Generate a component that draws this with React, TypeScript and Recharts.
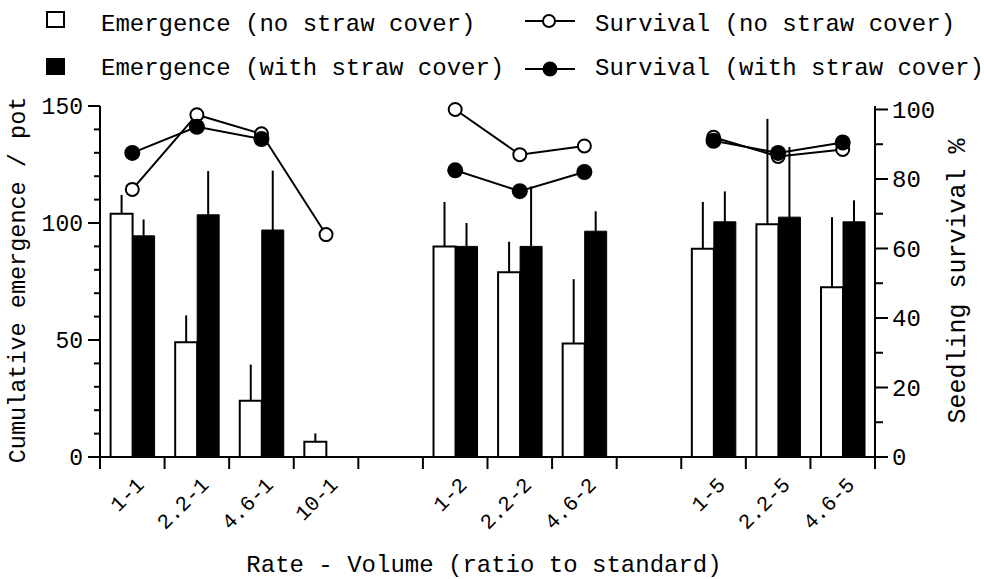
import React from 'react';
import { ComposedChart, Bar, Line, XAxis, YAxis, ErrorBar } from 'recharts';

// ---- data ----
const categories = ['1-1', '2.2-1', '4.6-1', '10-1', '', '1-2', '2.2-2', '4.6-2', '', '1-5', '2.2-5', '4.6-5'];
const emergenceNoCover = [104, 49, 24, 6.5, null, 90, 79, 48.5, null, 89, 99.5, 72.5];
const emergenceNoCoverErr = [8, 11.5, 15.5, 3.6, null, 19, 13, 27.5, null, 20, 45, 30];
const emergenceCover = [94.5, 103.5, 97, null, null, 90, 90, 96.5, null, 100.5, 102.5, 100.5];
const emergenceCoverErr = [7, 18.7, 25.4, null, null, 10, 25.6, 8.5, null, 13, 30, 9.2];
const survivalNoCover = [77, 98.5, 93, 64, null, 100, 87, 89.5, null, 92, 86.5, 88.5];
const survivalCover = [87.5, 95, 91.5, null, null, 82.5, 76.5, 82, null, 91, 87.5, 90.5];
const leftTicks = [0, 10, 20, 30, 40, 50, 60, 70, 80, 90, 100, 110, 120, 130, 140, 150];
const rightTicks = [0, 10, 20, 30, 40, 50, 60, 70, 80, 90, 100];

const data = categories.map((c, i) => ({
  idx: i,
  eNo: emergenceNoCover[i],
  eNoErr: emergenceNoCoverErr[i] == null ? null : [0, emergenceNoCoverErr[i]],
  eCov: emergenceCover[i],
  eCovErr: emergenceCoverErr[i] == null ? null : [0, emergenceCoverErr[i]],
  sNo: survivalNoCover[i],
  sCov: survivalCover[i],
}));

// ---- layout ----
const W = 984;
const H = 579;
const LEFT_W = 100;
const RIGHT_W = 109;
const TOP = 106;
const XAXIS_H = 122;
const PLOT_W = W - LEFT_W - RIGHT_W;
const BAND = PLOT_W / categories.length;
const FONT = '"Liberation Mono", "DejaVu Sans Mono", monospace';

const XTick = (props: any) => {
  const { x, y, payload, index } = props;
  const half = BAND / 2;
  const label = categories[Number(payload.value)];
  const lx = x + 13;
  const ly = y + 29;
  return (
    <g>
      <line x1={x - half} x2={x - half} y1={y} y2={y + 12} stroke="#000" strokeWidth={2} />
      {index === categories.length - 1 && (
        <line x1={x + half} x2={x + half} y1={y} y2={y + 12} stroke="#000" strokeWidth={2} />
      )}
      {label ? (
        <text
          x={lx}
          y={ly}
          transform={`rotate(-45 ${lx} ${ly})`}
          textAnchor="end"
          fontSize={21}
          fontFamily={FONT}
          fill="#000"
        >
          {label}
        </text>
      ) : null}
    </g>
  );
};

const LeftTick = (props: any) => {
  const { x, y, payload } = props;
  const v = payload.value;
  const major = v % 50 === 0;
  return (
    <g>
      <line x1={x - (major ? 12 : 6)} x2={x} y1={y} y2={y} stroke="#000" strokeWidth={2} />
      {major && (
        <text x={x - 17} y={y} dy="0.35em" textAnchor="end" fontSize={23} fontFamily={FONT} fill="#000">
          {v}
        </text>
      )}
    </g>
  );
};

const RightTick = (props: any) => {
  const { x, y, payload } = props;
  const v = payload.value;
  const major = v % 20 === 0;
  return (
    <g>
      <line x1={x} x2={x + (major ? 13 : 8)} y1={y} y2={y} stroke="#000" strokeWidth={2} />
      {major && (
        <text x={x + 17} y={y} dy="0.35em" textAnchor="start" fontSize={24} fontFamily={FONT} fill="#000">
          {v}
        </text>
      )}
    </g>
  );
};

const Overlay = () => (
  <svg width={W} height={H} style={{ position: 'absolute', left: 0, top: 0, pointerEvents: 'none' }}>
    <g fontFamily={FONT} fontSize={24} fill="#000">
      {/* legend */}
      <rect x={47} y={12} width={17} height={15} fill="#fff" stroke="#000" strokeWidth={2} />
      <text x={101} y={31}>Emergence (no straw cover)</text>
      <rect x={46} y={58} width={19} height={17} fill="#000" />
      <text x={101} y={75}>Emergence (with straw cover)</text>
      <line x1={525} x2={575} y1={21} y2={21} stroke="#000" strokeWidth={2} />
      <circle cx={549} cy={21} r={6} fill="#fff" stroke="#000" strokeWidth={2} />
      <text x={595} y={31}>Survival (no straw cover)</text>
      <line x1={525} x2={575} y1={69} y2={69} stroke="#000" strokeWidth={2} />
      <circle cx={550} cy={69} r={7.5} fill="#000" />
      <text x={595} y={75}>Survival (with straw cover)</text>
      {/* axis titles */}
      <text x={484} y={572} textAnchor="middle">Rate - Volume (ratio to standard)</text>
      <text
        x={25}
        y={280}
        textAnchor="middle"
        fontSize={23.5}
        transform="rotate(-90 25 280)"
      >
        Cumulative emergence / pot
      </text>
      <text
        x={965}
        y={281}
        textAnchor="middle"
        fontSize={25}
        transform="rotate(-90 965 281)"
      >
        Seedling survival %
      </text>
    </g>
  </svg>
);

export default function App() {
  return (
    <div style={{ position: 'absolute', left: 0, top: 0, width: W, height: H, background: '#fff' }}>
      <ComposedChart
        width={W}
        height={H}
        data={data}
        margin={{ top: TOP, right: 0, bottom: 0, left: 0 }}
        barCategoryGap="16.4%"
        barGap={0}
      >
        <XAxis
          dataKey="idx"
          type="category"
          height={XAXIS_H}
          interval={0}
          tickSize={0}
          tickMargin={0}
          tickLine={false}
          tick={XTick}
          axisLine={{ stroke: '#000', strokeWidth: 2 }}
        />
        <YAxis
          yAxisId="left"
          orientation="left"
          width={LEFT_W}
          domain={[0, 150]}
          ticks={leftTicks}
          interval={0}
          tickSize={0}
          tickMargin={0}
          tickLine={false}
          tick={LeftTick}
          axisLine={{ stroke: '#000', strokeWidth: 2 }}
          allowDataOverflow
        />
        <YAxis
          yAxisId="right"
          orientation="right"
          width={RIGHT_W}
          domain={[0, 101]}
          ticks={rightTicks}
          interval={0}
          tickSize={0}
          tickMargin={0}
          tickLine={false}
          tick={RightTick}
          axisLine={{ stroke: '#000', strokeWidth: 2 }}
          allowDataOverflow
        />
        <Bar yAxisId="left" dataKey="eNo" fill="#fff" stroke="#000" strokeWidth={2} isAnimationActive={false}>
          <ErrorBar dataKey="eNoErr" width={0} stroke="#000" strokeWidth={2} direction="y" isAnimationActive={false} />
        </Bar>
        <Bar yAxisId="left" dataKey="eCov" fill="#000" stroke="#000" strokeWidth={1} isAnimationActive={false}>
          <ErrorBar dataKey="eCovErr" width={0} stroke="#000" strokeWidth={2} direction="y" isAnimationActive={false} />
        </Bar>
        <Line
          yAxisId="right"
          dataKey="sNo"
          type="linear"
          stroke="#000"
          strokeWidth={2}
          dot={{ r: 6.5, fill: '#fff', stroke: '#000', strokeWidth: 2, clipDot: false }}
          activeDot={false}
          isAnimationActive={false}
        />
        <Line
          yAxisId="right"
          dataKey="sCov"
          type="linear"
          stroke="#000"
          strokeWidth={2}
          dot={{ r: 8, fill: '#000', stroke: '#000', strokeWidth: 0, clipDot: false }}
          activeDot={false}
          isAnimationActive={false}
        />
      </ComposedChart>
      <Overlay />
    </div>
  );
}
